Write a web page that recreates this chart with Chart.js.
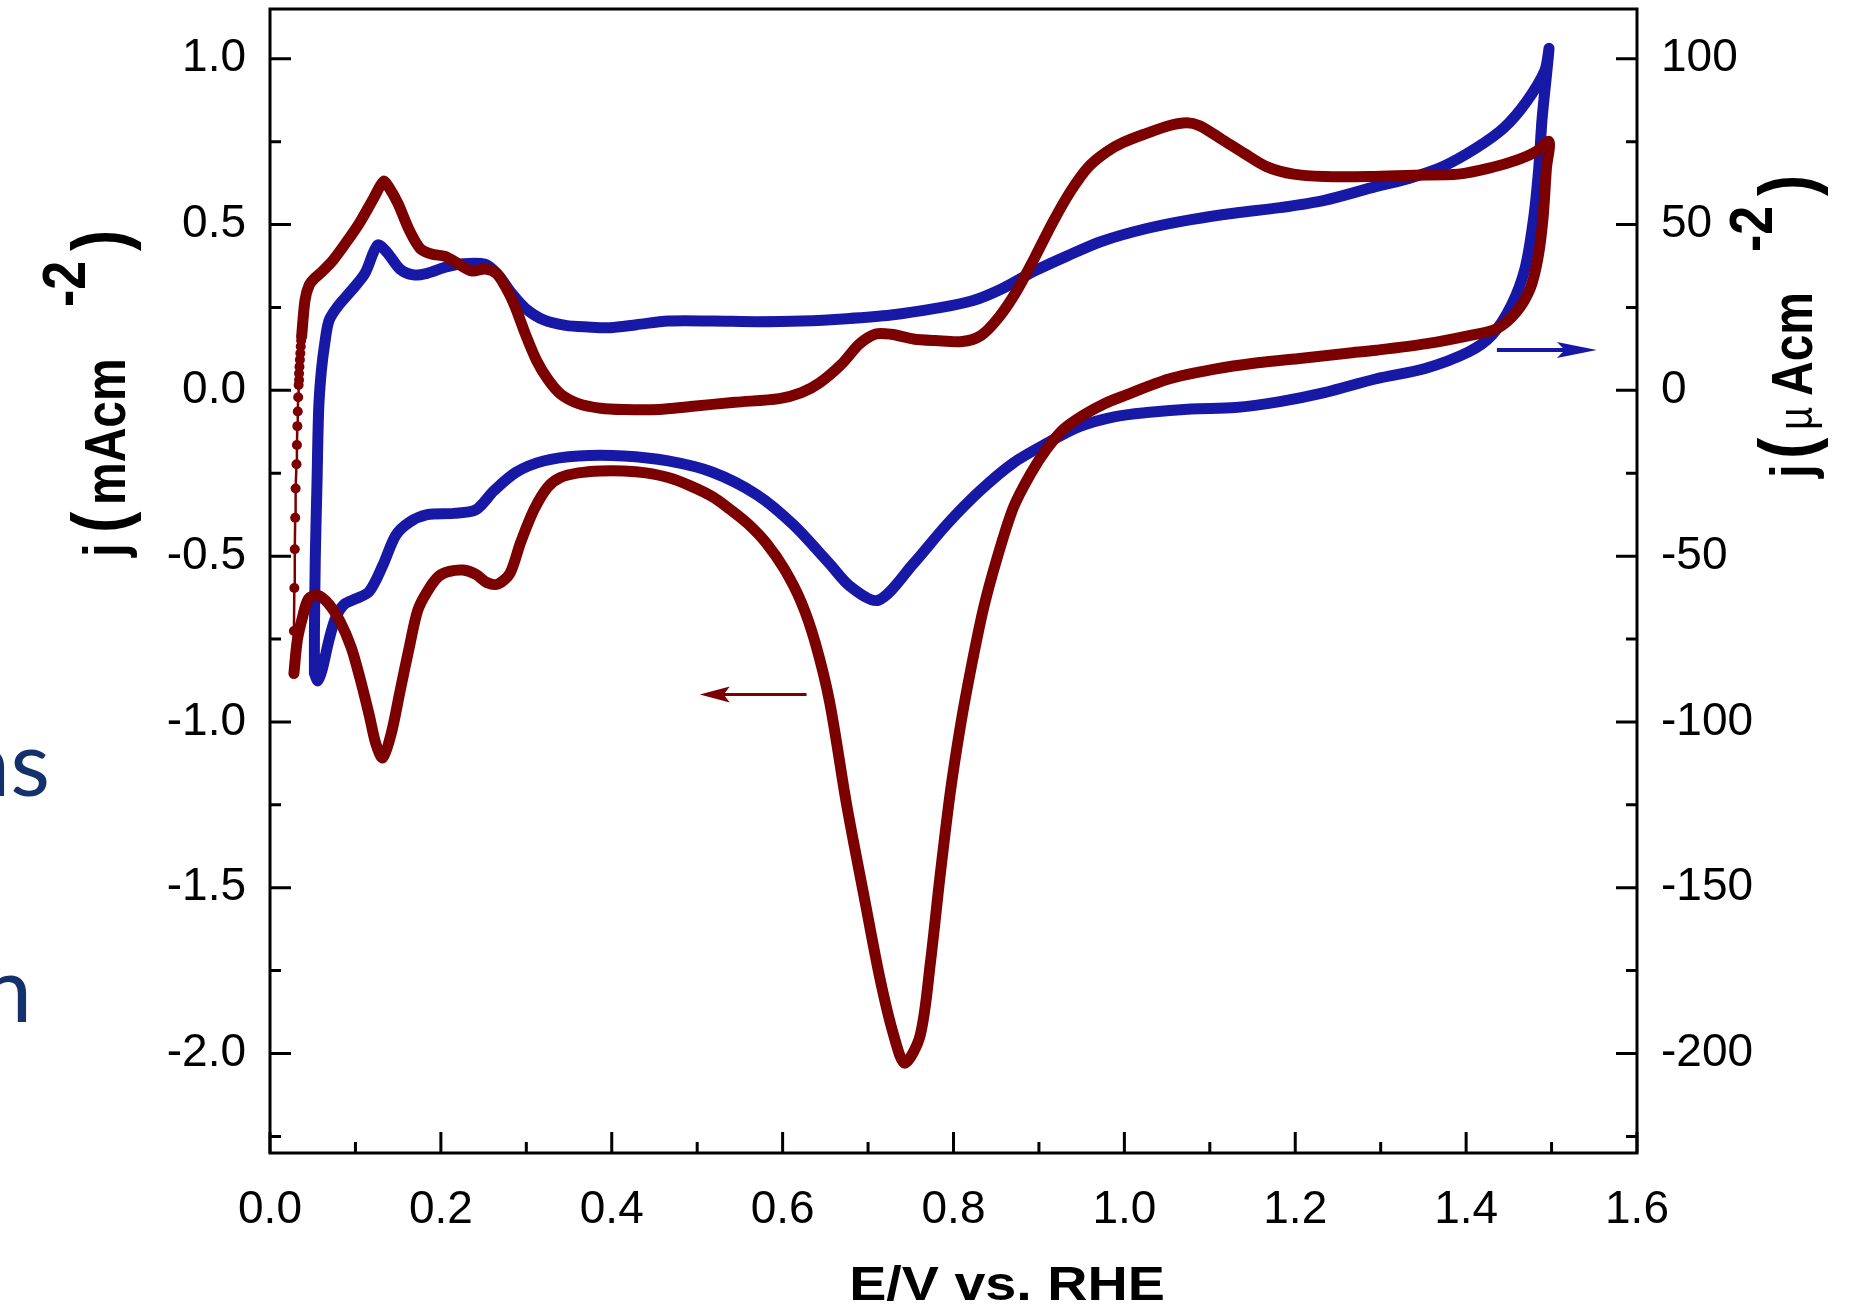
<!DOCTYPE html>
<html>
<head>
<meta charset="utf-8">
<title>CV, E/V vs. RHE</title>
<script src="https://cdn.jsdelivr.net/npm/chart.js@4.4.1/dist/chart.umd.min.js"></script>
<style>
  html, body { margin: 0; padding: 0; background: #fff; }
  #wrap { position: relative; width: 1858px; height: 1313px; }
</style>
</head>
<body>
<div id="wrap"><canvas id="cv"></canvas></div>
<script>
// ----- Data -----
// red trace (left axis, mA cm-2): anodic 0.04 -> 1.5 V, then cathodic back to 0.03 V
const redE = [
  0.037, 0.041, 0.046, 0.053, 0.061, 0.074, 0.090, 0.105, 0.121, 0.133, 0.139, 0.150, 0.163, 0.176, 0.189,
  0.205, 0.220, 0.236, 0.252, 0.265, 0.275, 0.286, 0.299, 0.312, 0.325, 0.340, 0.361, 0.387, 0.414, 0.455,
  0.492, 0.544, 0.596, 0.622, 0.643, 0.669, 0.690, 0.709, 0.727, 0.753, 0.779, 0.810, 0.832, 0.853, 0.874,
  0.895, 0.916, 0.937, 0.958, 0.979, 0.999, 1.026, 1.052, 1.073, 1.088, 1.114, 1.140, 1.167, 1.198, 1.234,
  1.287, 1.339, 1.391, 1.430, 1.460, 1.482, 1.497,
  1.494, 1.490, 1.484, 1.475, 1.459, 1.436, 1.405, 1.354, 1.295, 1.261, 1.208, 1.156, 1.104, 1.052, 1.000,
  0.976, 0.952, 0.929, 0.909, 0.890, 0.870, 0.851, 0.835, 0.820, 0.808, 0.796, 0.784, 0.773, 0.761, 0.743,
  0.730, 0.714, 0.695, 0.675, 0.655, 0.638, 0.622, 0.602, 0.581, 0.560, 0.539, 0.518, 0.492, 0.466, 0.440,
  0.414, 0.387, 0.361, 0.340, 0.325, 0.309, 0.293, 0.281, 0.267, 0.254, 0.241, 0.226, 0.210, 0.197, 0.184,
  0.173, 0.163, 0.152, 0.142, 0.132, 0.124, 0.116, 0.105, 0.095, 0.082, 0.069, 0.056, 0.045, 0.038, 0.032,
  0.028
];
const redJ = [
  0.162, 0.272, 0.318, 0.340, 0.358, 0.393, 0.449, 0.506, 0.578, 0.630, 0.613, 0.562, 0.483, 0.427, 0.411,
  0.404, 0.382, 0.360, 0.366, 0.353, 0.315, 0.258, 0.169, 0.090, 0.034, -0.011, -0.040, -0.054, -0.058, -0.058,
  -0.049, -0.036, -0.025, -0.007, 0.022, 0.079, 0.140, 0.170, 0.169, 0.155, 0.150, 0.147, 0.165, 0.220, 0.300,
  0.400, 0.506, 0.600, 0.674, 0.719, 0.748, 0.775, 0.798, 0.807, 0.798, 0.757, 0.715, 0.674, 0.652, 0.645,
  0.645, 0.649, 0.652, 0.672, 0.695, 0.720, 0.750,
  0.670, 0.519, 0.398, 0.307, 0.237, 0.186, 0.166, 0.141, 0.121, 0.112, 0.097, 0.083, 0.063, 0.034, -0.016,
  -0.041, -0.075, -0.117, -0.177, -0.253, -0.354, -0.506, -0.659, -0.845, -1.014, -1.217, -1.471, -1.725, -1.945, -2.029,
  -1.945, -1.775, -1.522, -1.251, -0.940, -0.760, -0.640, -0.539, -0.461, -0.404, -0.360, -0.321, -0.288, -0.263, -0.249,
  -0.243, -0.243, -0.249, -0.263, -0.292, -0.360, -0.461, -0.551, -0.584, -0.580, -0.555, -0.542, -0.546, -0.562, -0.607,
  -0.663, -0.775, -0.910, -1.034, -1.108, -1.067, -0.978, -0.865, -0.775, -0.697, -0.645, -0.618, -0.629, -0.685, -0.753,
  -0.854
];
// sparse samples where the red sweep turns round at 0.03 V (visible as separate dots)
const redDotE = [0.028, 0.028, 0.0285, 0.029, 0.0295, 0.030, 0.031, 0.0315, 0.032, 0.0325, 0.033, 0.0335, 0.034, 0.034, 0.0345, 0.035, 0.0355, 0.036, 0.0365, 0.037];
const redDotJ = [-0.854, -0.726, -0.596, -0.479, -0.384, -0.296, -0.223, -0.165, -0.108, -0.064, -0.021, 0.016, 0.031, 0.051, 0.071, 0.092, 0.112, 0.132, 0.150, 0.162];

// blue trace (right axis, µA cm-2): anodic from 0.05 V to 1.5 V, then cathodic back
const blueE = [
  0.052, 0.052, 0.053, 0.055, 0.057, 0.060, 0.064, 0.069, 0.079, 0.095, 0.111, 0.126, 0.137, 0.152, 0.168,
  0.184, 0.205, 0.226, 0.252, 0.267, 0.283, 0.299, 0.320, 0.346, 0.372, 0.398, 0.429, 0.466, 0.518, 0.570,
  0.622, 0.675, 0.727, 0.779, 0.822, 0.858, 0.895, 0.932, 0.973, 1.026, 1.078, 1.130, 1.182, 1.234, 1.295,
  1.334, 1.373, 1.412, 1.444, 1.471, 1.492, 1.497,
  1.489, 1.485, 1.479, 1.469, 1.453, 1.430, 1.403, 1.352, 1.295, 1.234, 1.182, 1.130, 1.078, 1.026, 0.988,
  0.948, 0.909, 0.870, 0.831, 0.792, 0.753, 0.712, 0.679, 0.655, 0.612, 0.570, 0.518, 0.466, 0.414, 0.361,
  0.320, 0.288, 0.262, 0.241, 0.215, 0.184, 0.163, 0.147, 0.132, 0.116, 0.100, 0.087, 0.077, 0.069, 0.061,
  0.056, 0.052
];
const blueJ = [
  -85.4, -73.0, -50.6, -28.1, -5.6, 5.6, 14.0, 21.0, 25.2, 30.0, 35.2, 43.8, 41.6, 36.6, 34.8,
  35.3, 37.1, 38.2, 38.0, 34.8, 29.2, 24.7, 21.3, 19.6, 19.1, 18.9, 19.8, 20.9, 20.9, 20.7,
  20.9, 21.6, 22.7, 24.7, 27.0, 30.8, 36.0, 40.4, 44.9, 48.8, 51.5, 53.5, 55.1, 57.3, 61.5,
  64.0, 67.5, 73.1, 79.1, 87.2, 96.3, 103.0,
  82.2, 67.0, 51.9, 36.8, 25.7, 16.6, 11.6, 6.6, 3.5, -0.7, -3.4, -5.2, -5.6, -6.7, -8.0,
  -10.9, -16.0, -21.9, -30.3, -40.5, -52.3, -63.3, -59.1, -52.3, -40.4, -31.5, -24.7, -21.3, -19.8, -19.8,
  -21.3, -24.7, -30.3, -36.0, -37.1, -37.5, -39.8, -43.8, -52.8, -60.7, -62.9, -64.5, -68.5, -75.3, -84.3,
  -87.6, -85.4
];

// axis ticks
const xTickVals = [0, 0.2, 0.4, 0.6, 0.8, 1.0, 1.2, 1.4, 1.6];
const yLeftTickVals = [-2.0, -1.5, -1.0, -0.5, 0.0, 0.5, 1.0];
const yRightTickVals = [-200, -150, -100, -50, 0, 50, 100];

// sweep-direction arrows (E, j)
const redArrowE = [0.628, 0.503];
const redArrowJ = [-0.917, -0.917];       // left axis
const blueArrowE = [1.436, 1.553];
const blueArrowJ = [12.2, 12.2];          // right axis

// ----- Helpers -----
const RED = '#7c0000';
const BLUE = '#1818a6';
const pts = (xs, ys) => xs.map((x, i) => ({ x, y: ys[i] }));

function minors(majors, lo, hi) {
  const step = majors[1] - majors[0];
  const out = [];
  for (let i = -1; i < majors.length; i++) {
    const v = (i < 0 ? majors[0] - step : majors[i]) + step / 2;
    if (v > lo && v < hi) out.push(v);
  }
  return out;
}

function drawArrow(ctx, x0, y0, x1, y1, color, headLen, headHalf, lw) {
  const a = Math.atan2(y1 - y0, x1 - x0);
  const c = Math.cos(a), s = Math.sin(a);
  ctx.strokeStyle = color;
  ctx.fillStyle = color;
  ctx.lineWidth = lw;
  ctx.beginPath();
  ctx.moveTo(x0, y0);
  ctx.lineTo(x1 - c * headLen * 0.7, y1 - s * headLen * 0.7);
  ctx.stroke();
  ctx.beginPath();
  ctx.moveTo(x1, y1);
  ctx.lineTo(x1 - c * headLen - s * headHalf, y1 - s * headLen + c * headHalf);
  ctx.lineTo(x1 - c * headLen * 0.8, y1 - s * headLen * 0.8);
  ctx.lineTo(x1 - c * headLen + s * headHalf, y1 - s * headLen - c * headHalf);
  ctx.closePath();
  ctx.fill();
}

// rotated axis title, read bottom to top; the source figure was stretched sideways,
// so glyphs are drawn a little taller across the page than along the text
function rotatedTitle(ctx, bx, by, parts, stretch) {
  ctx.save();
  ctx.translate(bx, by);
  ctx.rotate(-Math.PI / 2);
  ctx.scale(1, stretch);
  parts.forEach(p => {
    ctx.font = p.font;
    ctx.fillText(p.t, p.dx, -(p.up || 0) / stretch);
  });
  ctx.restore();
}

const FAM = '"Liberation Sans", Arial, sans-serif';

// frame, inward ticks, arrows, axis titles
const decorations = {
  id: 'decorations',
  afterDatasetsDraw(chart) {
    const { ctx, chartArea: a, scales } = chart;
    const { x, y, y2 } = scales;
    ctx.save();

    // frame
    ctx.strokeStyle = '#000';
    ctx.lineWidth = 3;
    ctx.strokeRect(a.left, a.top, a.right - a.left, a.bottom - a.top);

    // ticks (pointing into the plot)
    ctx.beginPath();
    const tickX = (v, len) => {
      const px = x.getPixelForValue(v);
      ctx.moveTo(px, a.bottom); ctx.lineTo(px, a.bottom - len);
    };
    xTickVals.forEach(v => tickX(v, 21));
    minors(xTickVals, x.min, x.max).forEach(v => tickX(v, 11));
    const tickY = (v, len) => {
      const py = y.getPixelForValue(v);
      ctx.moveTo(a.left, py); ctx.lineTo(a.left + len, py);
    };
    yLeftTickVals.forEach(v => tickY(v, 21));
    minors(yLeftTickVals, y.min, y.max).forEach(v => tickY(v, 11));
    const tickY2 = (v, len) => {
      const py = y2.getPixelForValue(v);
      ctx.moveTo(a.right, py); ctx.lineTo(a.right - len, py);
    };
    yRightTickVals.forEach(v => tickY2(v, 21));
    minors(yRightTickVals, y2.min, y2.max).forEach(v => tickY2(v, 11));
    ctx.stroke();

    // arrows
    drawArrow(ctx,
      x.getPixelForValue(redArrowE[0]), y.getPixelForValue(redArrowJ[0]),
      x.getPixelForValue(redArrowE[1]), y.getPixelForValue(redArrowJ[1]),
      RED, 30, 8, 3);
    drawArrow(ctx,
      x.getPixelForValue(blueArrowE[0]), y2.getPixelForValue(blueArrowJ[0]),
      x.getPixelForValue(blueArrowE[1]), y2.getPixelForValue(blueArrowJ[1]),
      BLUE, 40, 8, 4);

    // axis titles
    ctx.fillStyle = '#000';
    ctx.textBaseline = 'alphabetic';
    ctx.textAlign = 'left';
    const b48 = 'bold 48px ' + FAM;
    const b50 = 'bold 50px ' + FAM;
    const b52 = 'bold 52px ' + FAM;
    const b64 = 'bold 64px ' + FAM;

    rotatedTitle(ctx, 125, 557, [
      { t: 'j', font: b50, dx: 0 },
      { t: '(', font: b64, dx: 24 },
      { t: 'mAcm', font: b48, dx: 52 },
      { t: '-2', font: b52, dx: 250, up: 40 },
      { t: ')', font: b64, dx: 306 }
    ], 1.18);

    rotatedTitle(ctx, 1812, 478, [
      { t: 'j', font: b50, dx: 0 },
      { t: '(', font: b64, dx: 19 },
      { t: '\u00B5', font: '40px ' + FAM, dx: 48 },
      { t: 'Acm', font: b48, dx: 82 },
      { t: '-2', font: b52, dx: 226, up: 40 },
      { t: ')', font: b64, dx: 282 }
    ], 1.18);

    // bottom title
    ctx.save();
    ctx.translate(1007, 1300);
    ctx.scale(1.16, 1);
    ctx.font = 'bold 48px ' + FAM;
    ctx.textAlign = 'center';
    ctx.fillText('E/V vs. RHE', 0, 0);
    ctx.restore();

    // slide text cut off at the left edge
    ctx.fillStyle = '#14316b';
    ctx.font = '92px Lato, "Open Sans", sans-serif';
    ctx.textAlign = 'right';
    ctx.fillText('ns', 50, 796);
    ctx.fillText('n', 32, 1022);

    ctx.restore();
  }
};

// ----- Chart -----
const tickFont = { family: FAM, size: 46 };
const noPadY = s => { s.paddingTop = 0; s.paddingBottom = 0; };

new Chart(document.getElementById('cv'), {
  type: 'scatter',
  data: {
    datasets: [
      {
        label: 'red',
        data: pts(redE, redJ),
        yAxisID: 'y',
        showLine: true,
        borderColor: RED,
        borderWidth: 11,
        pointRadius: 0,
        tension: 0.3,
        borderCapStyle: 'round',
        borderJoinStyle: 'round',
        order: 0
      },
      {
        label: 'red turn',
        data: pts(redDotE, redDotJ),
        yAxisID: 'y',
        showLine: true,
        borderColor: RED,
        backgroundColor: RED,
        borderWidth: 2.5,
        pointRadius: 5,
        pointBorderWidth: 0,
        pointBackgroundColor: RED,
        tension: 0,
        order: 1
      },
      {
        label: 'blue',
        data: pts(blueE, blueJ),
        yAxisID: 'y2',
        showLine: true,
        borderColor: BLUE,
        borderWidth: 11,
        pointRadius: 0,
        tension: 0.3,
        borderCapStyle: 'round',
        borderJoinStyle: 'round',
        order: 2
      }
    ]
  },
  options: {
    responsive: true,
    maintainAspectRatio: false,
    animation: false,
    devicePixelRatio: 1,
    layout: { padding: { top: 9, left: 0, right: 0, bottom: 0 } },
    plugins: {
      legend: { display: false },
      tooltip: { enabled: false }
    },
    scales: {
      x: {
        type: 'linear',
        position: 'bottom',
        min: 0,
        max: 1.6,
        grid: { display: false, drawTicks: false },
        border: { display: false },
        afterBuildTicks: s => { s.ticks = xTickVals.map(v => ({ value: v })); },
        afterFit: s => { s.height = 160; s.paddingLeft = 0; s.paddingRight = 0; },
        ticks: {
          color: '#000',
          font: tickFont,
          padding: 30,
          maxRotation: 0,
          autoSkip: false,
          callback: v => Number(v).toFixed(1)
        }
      },
      y: {
        type: 'linear',
        position: 'left',
        min: -2.3,
        max: 1.15,
        grid: { display: false, drawTicks: false },
        border: { display: false },
        afterBuildTicks: s => { s.ticks = yLeftTickVals.map(v => ({ value: v })); },
        afterFit: s => { s.width = 270; noPadY(s); },
        ticks: {
          color: '#000',
          font: tickFont,
          padding: 24,
          autoSkip: false,
          callback: v => Number(v).toFixed(1)
        }
      },
      y2: {
        type: 'linear',
        position: 'right',
        min: -230,
        max: 115,
        grid: { display: false, drawTicks: false },
        border: { display: false },
        afterBuildTicks: s => { s.ticks = yRightTickVals.map(v => ({ value: v })); },
        afterFit: s => { s.width = 221; noPadY(s); },
        ticks: {
          color: '#000',
          font: tickFont,
          padding: 24,
          autoSkip: false,
          callback: v => String(v)
        }
      }
    }
  },
  plugins: [decorations]
});
</script>
</body>
</html>
